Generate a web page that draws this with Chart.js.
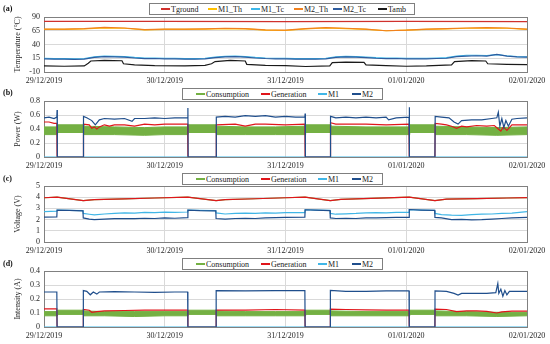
<!DOCTYPE html>
<html>
<head>
<meta charset="utf-8">
<script src="https://cdn.jsdelivr.net/npm/chart.js@4/dist/chart.umd.min.js"></script>
<style>
  body { margin: 0; background: #fff; font-family: "Liberation Serif", serif; }
  #wrap { position: relative; width: 550px; height: 344px; overflow: hidden; }
  canvas { position: absolute; left: 0; }
  .tag { position: absolute; left: 3px; font-size: 8px; font-weight: bold; line-height: 10px; color: #111; }
  .legend { position: absolute; box-sizing: border-box; border: 1px solid #7f7f7f; background: #fff; font-size: 8px; color: #222; }
  .legend .item { position: absolute; top: 0; bottom: 0; display: flex; align-items: center; white-space: nowrap; }
  .legend .sw { display: inline-block; width: 9px; height: 1.5px; margin-right: 1px; }
</style>
</head>
<body>
<div id="wrap"></div>
<script>
/*************************************************
 * DATA  (hours from 29/12/2019, value)
 *************************************************/
const DATES = ["29/12/2019", "30/12/2019", "31/12/2019", "01/01/2020", "02/01/2020"];
const NAMES_A = ["Tground", "M1_Th", "M1_Tc", "M2_Th", "M2_Tc", "Tamb"];
const NAMES_B = ["Consumption", "Generation", "M1", "M2"];

// (a) temperature
const T_GROUND = [[0, 82], [24, 82], [48, 81.5], [72, 82], [96, 81.5]];
const T_M1_TH = [[0, 67.5], [4, 67.5], [8, 68.5], [12, 70], [16, 69.5], [20, 66.5], [24, 67.5], [28, 67.5], [32, 68], [36, 69], [40, 68.5], [44, 66], [48, 65.5], [52, 68.5], [56, 70], [60, 69], [64, 67.5], [68, 65], [72, 66], [76, 67.5], [80, 68.5], [84, 69.5], [88, 70], [92, 69.5], [96, 67.5]];
const T_M2_TH = [[0, 68], [4, 68], [8, 69], [12, 71], [16, 70], [20, 67], [24, 68], [28, 68], [32, 68.5], [36, 69.5], [40, 69], [44, 66.5], [48, 66], [52, 69], [56, 70.5], [60, 69.5], [64, 68], [68, 65], [72, 66], [76, 68], [80, 69], [84, 70], [88, 70.5], [92, 70], [96, 68]];
const T_M1_TC = [[0, 15], [2, 14.5], [4, 14.5], [6, 14], [8, 14.5], [10, 17.5], [12, 19], [14, 18.5], [16, 18], [18, 16.5], [20, 15.5], [22, 15.5], [24, 15], [26, 15], [28, 14.5], [30, 14.5], [32, 15], [34, 17], [36, 18.5], [38, 19], [40, 18], [42, 16.5], [44, 15.5], [46, 15], [48, 15], [50, 14.5], [52, 14.5], [54, 14.5], [56, 15], [58, 17.5], [60, 18.5], [62, 18], [64, 17], [66, 16], [68, 15.5], [70, 15.5], [72, 15], [74, 15], [76, 15], [78, 15.5], [80, 16], [82, 19], [84, 20.5], [86, 20.5], [88, 20], [90, 21.5], [92, 19.5], [94, 18], [96, 17.5]];
const T_M2_TC = [[0, 14], [2, 13.5], [4, 13.5], [6, 13], [8, 13.5], [10, 16.5], [12, 18], [14, 17.5], [16, 17], [18, 15.5], [20, 14.5], [22, 14.5], [24, 14], [26, 14], [28, 13.5], [30, 13.5], [32, 14], [34, 16], [36, 17.5], [38, 18], [40, 17], [42, 15.5], [44, 14.5], [46, 14], [48, 14], [50, 13.5], [52, 13.5], [54, 13.5], [56, 14], [58, 16.5], [60, 17.5], [62, 17], [64, 16], [66, 15], [68, 14.5], [70, 14.5], [72, 14], [74, 14], [76, 14], [78, 14.5], [80, 15], [82, 18], [84, 19], [86, 19.5], [88, 19], [90, 22], [92, 19], [94, 17.5], [96, 17]];
const T_AMB = [[0, 1], [4, 0.5], [8, 1], [8.8, 6], [9.3, 10], [12, 11], [15.5, 10.5], [15.8, 5], [18, 3], [22, 1.5], [28, 1], [32, 2], [33.3, 5], [34, 9], [37, 11], [40, 10], [40.3, 4], [44, 2], [48, 1.5], [52, 0], [56.8, 1], [57.3, 7], [60, 8], [63.6, 7.5], [64, 3], [68, 1.5], [72, 0.5], [76, 1], [81, 3], [81.6, 9], [85, 10.5], [87.8, 10], [88.2, 5], [92, 4], [96, 3.5]];

// (b) power
const P_CONS = [[0, 0.32, 0.43], [2.6, 0.32, 0.43], [2.7, 0.35, 0.46], [7.8, 0.35, 0.46], [7.9, 0.32, 0.44], [14, 0.32, 0.43], [20, 0.31, 0.42], [24, 0.32, 0.43], [28.6, 0.32, 0.43], [28.7, 0.35, 0.46], [34.2, 0.35, 0.46], [34.3, 0.32, 0.44], [40, 0.32, 0.43], [46, 0.32, 0.43], [51.9, 0.32, 0.44], [52, 0.35, 0.46], [56.9, 0.35, 0.46], [57, 0.32, 0.44], [64, 0.32, 0.43], [72.6, 0.32, 0.43], [72.7, 0.35, 0.46], [77.7, 0.35, 0.46], [77.8, 0.32, 0.44], [84, 0.32, 0.43], [90, 0.31, 0.42], [96, 0.32, 0.43]];
const P_GEN = [[0, 0.5], [1, 0.5], [2, 0.48], [2.55, 0.48], [2.6, 0], [7.8, 0], [7.85, 0.47], [9, 0.46], [9.5, 0.41], [10, 0.43], [10.5, 0.4], [11, 0.43], [12, 0.46], [13, 0.44], [14, 0.46], [16, 0.46], [18, 0.44], [20, 0.47], [22, 0.46], [24, 0.47], [26, 0.47], [28.55, 0.47], [28.6, 0], [34.2, 0], [34.25, 0.46], [38, 0.47], [40, 0.44], [42, 0.47], [44, 0.47], [48, 0.46], [51.85, 0.47], [51.9, 0], [56.9, 0], [56.95, 0.49], [58, 0.47], [60, 0.47], [64, 0.47], [68, 0.46], [72.55, 0.47], [72.6, 0], [77.7, 0], [77.75, 0.48], [79, 0.47], [80, 0.46], [81, 0.44], [82, 0.41], [83, 0.44], [84, 0.43], [86, 0.45], [88, 0.44], [89.5, 0.45], [90.3, 0.4], [90.8, 0.37], [91.3, 0.43], [92, 0.38], [93, 0.46], [96, 0.46]];
const P_M1 = [[0, 0], [96, 0]];
const P_M2 = [[0, 0.56], [1, 0.57], [2, 0.55], [2.55, 0.57], [2.6, 0.67], [2.65, 0], [7.8, 0], [7.85, 0.58], [8.5, 0.56], [9.5, 0.52], [10.2, 0.46], [11, 0.53], [12, 0.55], [14, 0.54], [16, 0.55], [17.5, 0.51], [18, 0.55], [20, 0.55], [22, 0.56], [24, 0.55], [26, 0.56], [28.55, 0.56], [28.6, 0.7], [28.65, 0], [34.2, 0], [34.25, 0.57], [36, 0.58], [38, 0.57], [40, 0.59], [42, 0.58], [44, 0.59], [46, 0.57], [48, 0.58], [50, 0.57], [51.85, 0.57], [51.9, 0.62], [51.95, 0], [56.9, 0], [56.95, 0.58], [58, 0.56], [60, 0.57], [62, 0.56], [64, 0.57], [66, 0.56], [68, 0.57], [68.5, 0.53], [70, 0.56], [72.55, 0.57], [72.6, 0.71], [72.65, 0], [77.7, 0], [77.75, 0.58], [79, 0.57], [80.5, 0.56], [81.5, 0.5], [82.3, 0.47], [83, 0.52], [85, 0.53], [87, 0.53], [89, 0.55], [90, 0.56], [90.3, 0.64], [90.6, 0.44], [91, 0.55], [91.4, 0.42], [91.8, 0.52], [92.3, 0.44], [93, 0.54], [94, 0.55], [96, 0.56]];

// (c) voltage
const V_GEN = [[0, 3.95], [2.6, 4.0], [7.8, 3.7], [10, 3.78], [16, 3.85], [22, 3.93], [28.6, 4.0], [34.2, 3.7], [36, 3.78], [42, 3.86], [48, 3.95], [51.9, 4.0], [56.9, 3.7], [59, 3.8], [65, 3.9], [72.6, 4.0], [77.7, 3.7], [80, 3.82], [86, 3.88], [92, 3.93], [96, 3.96]];
const V_CONS = V_GEN;
const V_M1 = [[0, 2.72], [2.55, 2.75], [2.6, 2.85], [5, 2.82], [7.75, 2.8], [7.8, 2.55], [9, 2.48], [10, 2.42], [12, 2.5], [14, 2.55], [16, 2.6], [18, 2.58], [20, 2.65], [22, 2.62], [24, 2.67], [26, 2.65], [28.55, 2.68], [28.6, 2.85], [31, 2.82], [34.15, 2.8], [34.2, 2.6], [36, 2.5], [38, 2.55], [40, 2.58], [42, 2.55], [44, 2.6], [46, 2.58], [48, 2.62], [51.85, 2.63], [51.9, 2.88], [54, 2.85], [56.85, 2.82], [56.9, 2.55], [58, 2.48], [60, 2.52], [62, 2.55], [64, 2.6], [66, 2.62], [68, 2.6], [70, 2.65], [72.55, 2.65], [72.6, 2.88], [75, 2.85], [77.65, 2.82], [77.7, 2.55], [79, 2.45], [81, 2.4], [83, 2.38], [85, 2.45], [87, 2.48], [89, 2.5], [91, 2.55], [93, 2.58], [96, 2.72]];
const V_M2 = [[0, 2.22], [2.55, 2.25], [2.6, 2.85], [5, 2.82], [7.75, 2.78], [7.8, 2.15], [9, 2.05], [10, 2.0], [12, 2.05], [14, 2.08], [16, 2.1], [18, 2.08], [20, 2.12], [22, 2.1], [24, 2.15], [26, 2.12], [28.55, 2.18], [28.6, 2.85], [31, 2.8], [34.15, 2.78], [34.2, 2.1], [36, 2.05], [38, 2.1], [40, 2.12], [42, 2.1], [44, 2.15], [46, 2.18], [48, 2.2], [51.85, 2.22], [51.9, 2.88], [54, 2.85], [56.85, 2.8], [56.9, 2.15], [58, 2.1], [60, 2.12], [62, 2.1], [64, 2.15], [66, 2.15], [68, 2.18], [70, 2.2], [72.55, 2.2], [72.6, 2.9], [75, 2.85], [77.65, 2.82], [77.7, 2.2], [79, 2.15], [81, 2.0], [83, 2.02], [85, 1.98], [87, 2.0], [89, 2.05], [91, 2.1], [93, 2.15], [96, 2.2]];

// (d) intensity
const I_CONS = [[0, 0.08, 0.11], [2.6, 0.08, 0.11], [2.7, 0.09, 0.12], [7.8, 0.09, 0.12], [7.9, 0.08, 0.115], [12, 0.08, 0.11], [18, 0.075, 0.11], [24, 0.08, 0.11], [28.6, 0.08, 0.11], [28.7, 0.09, 0.12], [34.2, 0.09, 0.12], [34.3, 0.08, 0.115], [40, 0.08, 0.11], [46, 0.08, 0.11], [51.9, 0.08, 0.11], [52, 0.09, 0.12], [56.9, 0.09, 0.12], [57, 0.08, 0.115], [64, 0.08, 0.11], [72.6, 0.08, 0.11], [72.7, 0.09, 0.12], [77.7, 0.09, 0.12], [77.8, 0.08, 0.115], [84, 0.08, 0.11], [90, 0.075, 0.105], [96, 0.08, 0.105]];
const I_GEN = [[0, 0.13], [2.55, 0.13], [2.6, 0], [7.8, 0], [7.82, 0.125], [9, 0.12], [9.5, 0.105], [10.5, 0.11], [12, 0.115], [16, 0.118], [20, 0.12], [24, 0.12], [28.55, 0.12], [28.6, 0], [34.2, 0], [34.22, 0.12], [40, 0.12], [46, 0.125], [51.85, 0.12], [51.9, 0], [56.9, 0], [56.92, 0.128], [60, 0.125], [64, 0.122], [68, 0.12], [72.55, 0.12], [72.6, 0], [77.7, 0], [77.72, 0.128], [80, 0.125], [82, 0.11], [84, 0.115], [86, 0.115], [88, 0.112], [90, 0.1], [91, 0.108], [93, 0.113], [96, 0.113]];
const I_M1 = [[0, 0], [96, 0]];
const I_M2 = [[0, 0.25], [2.55, 0.25], [2.6, 0], [7.8, 0], [7.82, 0.26], [8.5, 0.255], [9.2, 0.23], [9.8, 0.25], [10.5, 0.235], [11, 0.25], [14, 0.252], [18, 0.25], [22, 0.248], [26, 0.25], [28.55, 0.25], [28.6, 0], [34.2, 0], [34.22, 0.26], [40, 0.258], [46, 0.26], [51.85, 0.26], [51.9, 0], [56.9, 0], [56.92, 0.262], [60, 0.255], [64, 0.255], [68, 0.258], [72.55, 0.258], [72.6, 0], [77.7, 0], [77.72, 0.258], [80, 0.255], [81.5, 0.24], [82.3, 0.228], [83, 0.24], [86, 0.24], [88, 0.24], [89.8, 0.245], [90.2, 0.31], [90.4, 0.24], [90.8, 0.27], [91.2, 0.22], [91.6, 0.26], [92, 0.23], [92.5, 0.255], [96, 0.255]];

/*************************************************
 * STYLE
 *************************************************/
const C_A = ["#d0312d", "#ffc000", "#3db7e9", "#f0811f", "#2e5c9e", "#1a1a1a"];
const C_GREEN = "#74b043", C_RED = "#e0161b", C_LBLUE = "#41b6e6", C_DBLUE = "#1f4e8c";
const FONT = { family: '"Liberation Serif", serif', size: 8 };

const frame = {
  id: "frame",
  beforeDatasetsDraw(chart) {
    const a = chart.chartArea, ctx = chart.ctx;
    ctx.save();
    ctx.strokeStyle = "#808080";
    ctx.lineWidth = 1;
    ctx.strokeRect(Math.round(a.left) + 0.5, Math.round(a.top) + 0.5,
      Math.round(a.right - a.left), Math.round(a.bottom - a.top));
    ctx.restore();
  }
};

/*************************************************
 * HELPERS
 *************************************************/
function pts(arr, k = 1) {
  return arr.map(p => ({ x: p[0], y: p[k] }));
}

function line(data, color, k = 1) {
  return { data: pts(data, k), borderColor: color, backgroundColor: color, borderWidth: 1.2, fill: false };
}

function band(data, color) {
  return [
    { data: pts(data, 1), borderColor: color, borderWidth: 1, fill: false },
    { data: pts(data, 2), borderColor: color, backgroundColor: color, borderWidth: 1, fill: "-1" }
  ];
}

function addLegend(wrap, left, top, width, height, names, colors, offsets) {
  const box = document.createElement("div");
  box.className = "legend";
  Object.assign(box.style, { left: left + "px", top: top + "px", width: width + "px", height: height + "px" });
  names.forEach((n, i) => {
    const it = document.createElement("div");
    it.className = "item";
    it.style.left = offsets[i] + "px";
    it.innerHTML = `<span class="sw" style="background:${colors[i]}"></span>${n}`;
    box.appendChild(it);
  });
  wrap.appendChild(box);
}

function addTag(wrap, text, top) {
  const t = document.createElement("div");
  t.className = "tag";
  t.style.top = top + "px";
  t.textContent = text;
  wrap.appendChild(t);
}

function makePanel(wrap, p) {
  const cv = document.createElement("canvas");
  cv.width = 550; cv.height = p.h;
  cv.style.top = p.top + "px";
  wrap.appendChild(cv);

  const n = p.datasets.length;
  p.datasets.forEach((d, i) => { d.order = n - i; d.pointRadius = 0; });

  new Chart(cv, {
    type: "line",
    data: { datasets: p.datasets },
    options: {
      responsive: false,
      animation: false,
      devicePixelRatio: 1,
      layout: { padding: { left: 0, right: 23, top: p.padTop, bottom: 0 } },
      plugins: { legend: { display: false }, tooltip: { enabled: false } },
      elements: { line: { tension: 0 }, point: { radius: 0 } },
      scales: {
        x: {
          type: "linear", min: 0, max: 96,
          afterBuildTicks: s => { s.ticks = [0, 24, 48, 72, 96].map(v => ({ value: v })); },
          ticks: { font: FONT, color: "#262626", padding: 4, maxRotation: 0, autoSkip: false,
                   callback: v => DATES[Math.round(v / 24)] },
          grid: { color: "#d9d9d9", drawTicks: false },
          border: { display: false },
          afterFit: s => { s.height = p.xH; }
        },
        y: {
          min: p.min, max: p.max,
          ticks: { stepSize: p.step, autoSkip: false, font: FONT, color: "#262626", padding: 4 },
          grid: { color: "#d9d9d9", drawTicks: false },
          border: { display: false },
          title: { display: true, text: p.title, font: FONT, color: "#262626", padding: { top: 13, bottom: 0 } },
          afterFit: s => { s.width = 44; }
        }
      }
    },
    plugins: [frame]
  });
}

/*************************************************
 * BUILD
 *************************************************/
document.addEventListener("DOMContentLoaded", () => {
  const wrap = document.getElementById("wrap");

  makePanel(wrap, {
    top: 0, h: 86, padTop: 17, xH: 14, min: -10, max: 90, step: 25, title: "Temperature (°C)",
    datasets: [
      line(T_GROUND, C_A[0]), line(T_M1_TH, C_A[1]), line(T_M2_TH, C_A[3]),
      line(T_M1_TC, C_A[2]), line(T_M2_TC, C_A[4]), line(T_AMB, C_A[5])
    ]
  });
  makePanel(wrap, {
    top: 86, h: 85, padTop: 15, xH: 14, min: 0, max: 0.8, step: 0.2, title: "Power (W)",
    datasets: [...band(P_CONS, C_GREEN), line(P_GEN, C_RED), line(P_M1, C_LBLUE), line(P_M2, C_DBLUE)]
  });
  makePanel(wrap, {
    top: 171, h: 85, padTop: 15, xH: 14, min: 0, max: 5, step: 1, title: "Voltage (V)",
    datasets: [line(V_CONS, C_GREEN), line(V_GEN, C_RED), line(V_M1, C_LBLUE), line(V_M2, C_DBLUE)]
  });
  makePanel(wrap, {
    top: 256, h: 88, padTop: 15, xH: 17, min: 0, max: 0.4, step: 0.1, title: "Intensity (A)",
    datasets: [...band(I_CONS, C_GREEN), line(I_GEN, C_RED), line(I_M1, C_LBLUE), line(I_M2, C_DBLUE)]
  });

  const colsB = [C_GREEN, C_RED, C_LBLUE, C_DBLUE];
  addLegend(wrap, 149, 3, 266, 12, NAMES_A, C_A, [11, 58, 101, 144, 183, 228]);
  addLegend(wrap, 182, 88, 201, 12, NAMES_B, colsB, [13, 78, 135, 169]);
  addLegend(wrap, 182, 173, 201, 12, NAMES_B, colsB, [13, 78, 135, 169]);
  addLegend(wrap, 182, 258, 201, 12, NAMES_B, colsB, [13, 78, 135, 169]);

  addTag(wrap, "(a)", 4);
  addTag(wrap, "(b)", 88);
  addTag(wrap, "(c)", 174);
  addTag(wrap, "(d)", 259);
});
</script>
</body>
</html>
